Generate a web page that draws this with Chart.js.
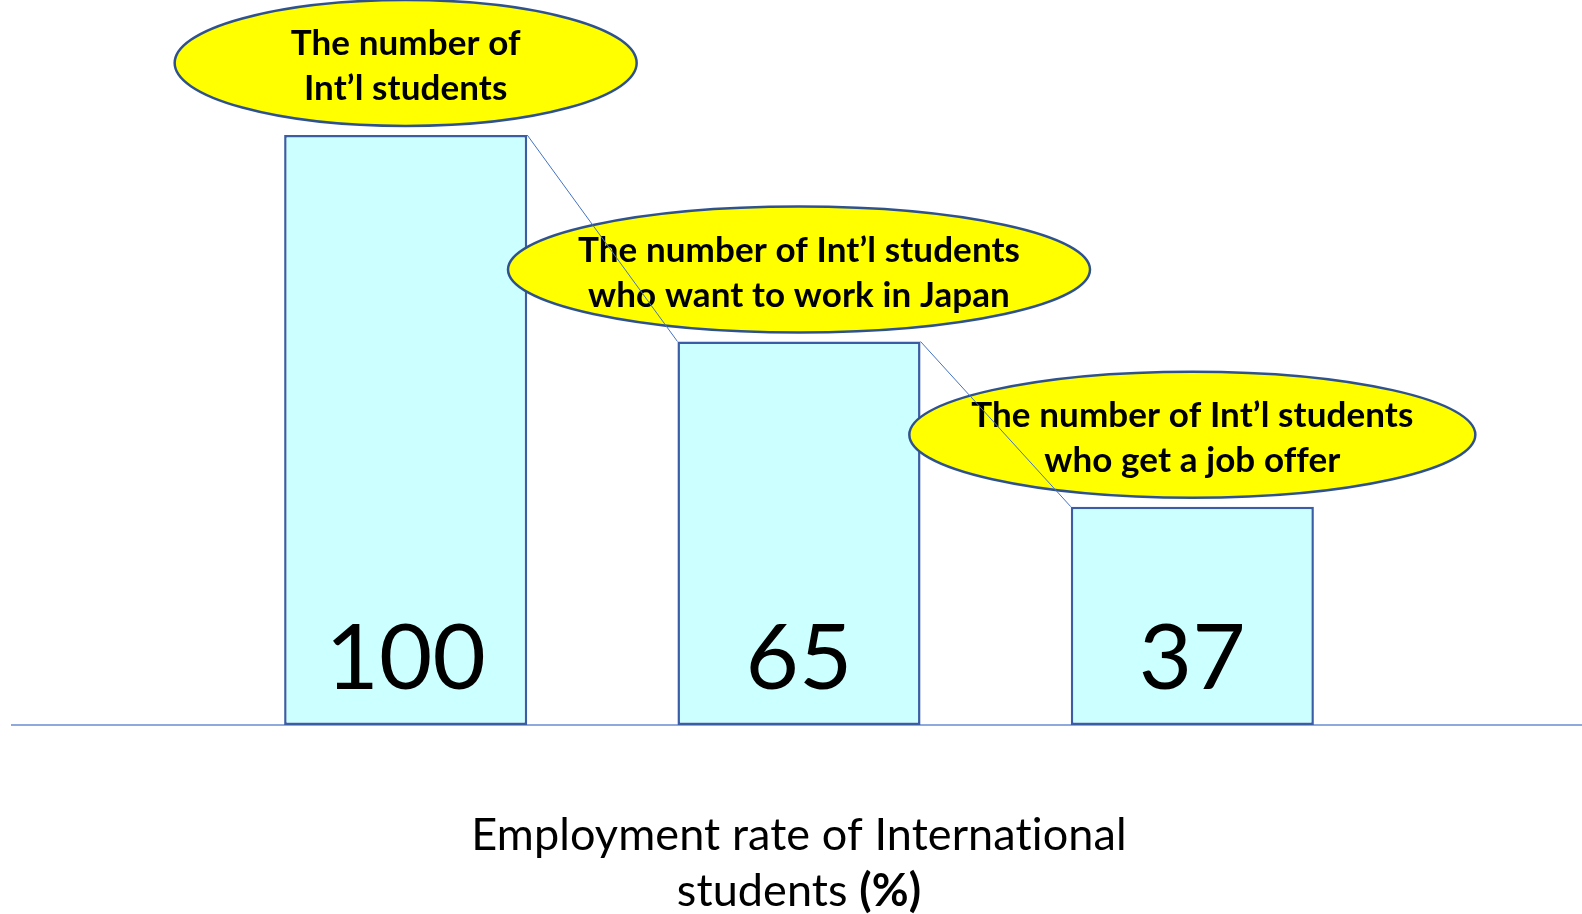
<!DOCTYPE html>
<html>
<head>
<meta charset="utf-8">
<script src="https://cdn.jsdelivr.net/npm/chart.js@4.4.1/dist/chart.umd.min.js"></script>
<style>
  html, body { margin:0; padding:0; background:#fff; }
  #wrap { width:1582px; height:914px; }
</style>
</head>
<body>
<div id="wrap"><canvas id="chart"></canvas></div>
<script>
// data
const categories = ['Int’l students', 'Want to work in Japan', 'Get a job offer'];
const values = [100, 65, 37];
const bubbleLines = [
  ['The number of', 'Int’l students'],
  ['The number of Int’l students', 'who want to work in Japan'],
  ['The number of Int’l students', 'who get a job offer']
];
const titleLine1 = 'Employment rate of International';
const titleLine2 = 'students ';
const titleUnit = '(%)';

// style
const bubbleRx = [231, 291, 283];
const FONT = 'Lato, "Open Sans", sans-serif';

const decor = {
  id: 'decor',
  beforeDatasetsDraw(chart){
    const ctx = chart.ctx;
    const y0 = chart.scales.y.getPixelForValue(0);
    ctx.save();
    ctx.strokeStyle = '#8EA9DB';
    ctx.lineWidth = 2;
    ctx.beginPath();
    ctx.moveTo(11, y0);
    ctx.lineTo(chart.width, y0);
    ctx.stroke();
    ctx.restore();
  },
  afterDatasetsDraw(chart){
    const ctx = chart.ctx;
    const bars = chart.getDatasetMeta(0).data;
    const area = chart.chartArea;
    const y0 = chart.scales.y.getPixelForValue(0);
    ctx.save();
    ctx.letterSpacing = '0.1px'; // no ligatures

    // numbers inside bars
    ctx.fillStyle = '#000';
    ctx.textAlign = 'center';
    ctx.textBaseline = 'alphabetic';
    ctx.font = '92px ' + FONT;
    bars.forEach((b, i) => ctx.fillText(String(values[i]), b.x, y0 - 36));

    // bubbles
    bars.forEach((b, i) => {
      const cy = b.y - 72;
      ctx.beginPath();
      ctx.ellipse(b.x, cy, bubbleRx[i], 63, 0, 0, Math.PI * 2);
      ctx.fillStyle = '#FFFF00';
      ctx.fill();
      ctx.lineWidth = 2.5;
      ctx.strokeStyle = '#2F528F';
      ctx.stroke();
      ctx.fillStyle = '#000';
      ctx.font = 'bold 35px ' + FONT;
      ctx.fillText(bubbleLines[i][0], b.x, cy - 8);
      ctx.fillText(bubbleLines[i][1], b.x, cy + 37);
    });

    // connectors between bar tops
    ctx.strokeStyle = '#4472C4';
    ctx.lineWidth = 1;
    for (let i = 0; i < bars.length - 1; i++){
      const a = bars[i], n = bars[i + 1];
      ctx.beginPath();
      ctx.moveTo(a.x + a.width / 2, a.y);
      ctx.lineTo(n.x - n.width / 2, n.y);
      ctx.stroke();
    }

    // axis title
    const cx = (area.left + area.right) / 2;
    ctx.font = '45px ' + FONT;
    ctx.fillText(titleLine1, cx, y0 + 125);
    const w1 = ctx.measureText(titleLine2).width;
    ctx.font = 'bold 45px ' + FONT;
    const w2 = ctx.measureText(titleUnit).width;
    const start = cx - (w1 + w2) / 2;
    ctx.textAlign = 'left';
    ctx.font = '45px ' + FONT;
    ctx.fillText(titleLine2, start, y0 + 181);
    ctx.font = 'bold 45px ' + FONT;
    ctx.fillText(titleUnit, start + w1, y0 + 181);
    ctx.restore();
  }
};

new Chart(document.getElementById('chart'), {
  type: 'bar',
  data: {
    labels: categories,
    datasets: [{
      data: values,
      backgroundColor: '#CCFFFF',
      borderColor: '#3A5DA5',
      borderWidth: 2.5,
      borderSkipped: false,
      barPercentage: 1,
      categoryPercentage: 0.618
    }]
  },
  options: {
    responsive: true,
    maintainAspectRatio: false,
    animation: false,
    layout: { padding: { left: 209, right: 193, top: 17, bottom: 189 } },
    plugins: { legend: { display: false }, tooltip: { enabled: false } },
    scales: {
      x: { display: false },
      y: { display: false, min: 0, max: 120 }
    }
  },
  plugins: [decor]
});
</script>
</body>
</html>
